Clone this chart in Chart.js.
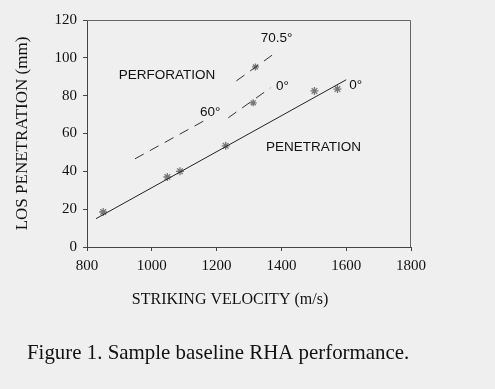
<!DOCTYPE html>
<html>
<head>
<meta charset="utf-8">
<script src="https://cdn.jsdelivr.net/npm/chart.js@4.4.0/dist/chart.umd.min.js"></script>
<style>
html,body{margin:0;padding:0;background:#efefef;}
canvas{display:block;}
</style>
</head>
<body>
<canvas id="c" width="495" height="389"></canvas>
<script>
// Measured points, 0 deg obliquity (penetration)
const velPen0 = [850, 1048, 1087, 1228, 1502, 1573];
const losPen0 = [18.5, 37, 40, 53.5, 82.5, 83.5];
// Fitted penetration line (0 deg)
const fitPenVel = [828, 1600];
const fitPenLos = [15, 88.4];
// Perforation limit lines
const perf60Vel = [948, 1175];
const perf60Los = [46.6, 68];
const perf0Vel = [1236, 1366];
const perf0Los = [68.3, 84.1];
const perf0PtVel = [1313];
const perf0PtLos = [76.2];
const perf705Vel = [1261, 1381];
const perf705Los = [87.8, 102.6];
const perf705PtVel = [1320];
const perf705PtLos = [95.2];
// Axis ticks
const xTicks = [800, 1000, 1200, 1400, 1600, 1800];
const yTicks = [0, 20, 40, 60, 80, 100, 120];
// Text labels (data coordinates)
const labelText = ['PERFORATION', '70.5°', '60°', '0°', '0°', 'PENETRATION'];
const labelVel = [1047, 1385, 1180, 1403, 1629, 1499];
const labelLos = [91, 110.6, 71.4, 84.7, 85.7, 52.9];
const xTitle = 'STRIKING VELOCITY (m/s)';
const yTitle = 'LOS PENETRATION (mm)';
const caption = 'Figure 1. Sample baseline RHA performance.';

const SERIF = '"Liberation Serif", "Times New Roman", serif';
const pts = (xs, ys) => xs.map((x, i) => ({x, y: ys[i]}));

const frame = {
  id: 'frame',
  afterDraw(chart) {
    const {ctx, chartArea: a, scales} = chart;
    ctx.save();
    ctx.strokeStyle = '#666';
    ctx.lineWidth = 1;
    ctx.beginPath();
    ctx.moveTo(a.left, a.top + 0.5);
    ctx.lineTo(a.right - 0.5, a.top + 0.5);
    ctx.lineTo(a.right - 0.5, a.bottom);
    ctx.stroke();
    ctx.fillStyle = '#111';
    ctx.font = '13.5px "Liberation Sans", Arial, sans-serif';
    ctx.textAlign = 'center';
    ctx.textBaseline = 'middle';
    labelText.forEach((t, i) => {
      ctx.fillText(t, scales.x.getPixelForValue(labelVel[i]), scales.y.getPixelForValue(labelLos[i]));
    });
    // x axis title
    ctx.font = '16px ' + SERIF;
    ctx.textBaseline = 'alphabetic';
    ctx.fillText(xTitle, 230, 304);
    // caption
    ctx.font = '20.9px ' + SERIF;
    ctx.textAlign = 'left';
    ctx.fillText(caption, 27, 359);
    ctx.restore();
  }
};

const starPt = {pointStyle: 'star', pointRadius: 4, pointBorderColor: '#777', pointBorderWidth: 1.3, showLine: false};
const plain = v => String(v);

new Chart(document.getElementById('c'), {
  type: 'scatter',
  data: {
    datasets: [
      {data: pts(fitPenVel, fitPenLos), showLine: true, borderColor: '#222', borderWidth: 1, pointRadius: 0},
      {data: pts(perf60Vel, perf60Los), showLine: true, borderColor: '#333', borderWidth: 1, borderDash: [10, 7], pointRadius: 0},
      {data: pts(perf0Vel, perf0Los), showLine: true, borderColor: '#333', borderWidth: 1, borderDash: [10, 7], pointRadius: 0},
      {data: pts(perf705Vel, perf705Los), showLine: true, borderColor: '#333', borderWidth: 1, borderDash: [10, 7], pointRadius: 0},
      Object.assign({data: pts(velPen0, losPen0)}, starPt),
      Object.assign({data: pts(perf0PtVel, perf0PtLos)}, starPt, {pointRadius: 3.5}),
      Object.assign({data: pts(perf705PtVel, perf705PtLos)}, starPt, {pointRadius: 3.5})
    ]
  },
  options: {
    responsive: false,
    devicePixelRatio: 1,
    animation: false,
    layout: {padding: {left: 0, right: 84, top: 20, bottom: 0}},
    plugins: {
      legend: {display: false},
      tooltip: {enabled: false}
    },
    scales: {
      x: {
        type: 'linear',
        min: 800, max: 1800,
        afterBuildTicks: s => { s.ticks = xTicks.map(v => ({value: v})); },
        afterFit: s => { s.height = 142; },
        ticks: {color: '#111', padding: 6, callback: plain, font: {family: SERIF, size: 15}},
        grid: {display: true, drawOnChartArea: false, drawTicks: true, tickLength: 4, color: '#444'},
        border: {display: true, color: '#444', width: 1},
        title: {display: false}
      },
      y: {
        type: 'linear',
        min: 0, max: 120,
        afterBuildTicks: s => { s.ticks = yTicks.map(v => ({value: v})); },
        afterFit: s => { s.width = 87; },
        ticks: {color: '#111', padding: 6, callback: plain, font: {family: SERIF, size: 15}},
        grid: {display: true, drawOnChartArea: false, drawTicks: true, tickLength: 4, color: '#444'},
        border: {display: true, color: '#444', width: 1},
        title: {display: true, text: yTitle, color: '#111', padding: 12,
          font: {family: SERIF, size: 17, lineHeight: 1.2}}
      }
    }
  },
  plugins: [frame]
});
</script>
</body>
</html>
